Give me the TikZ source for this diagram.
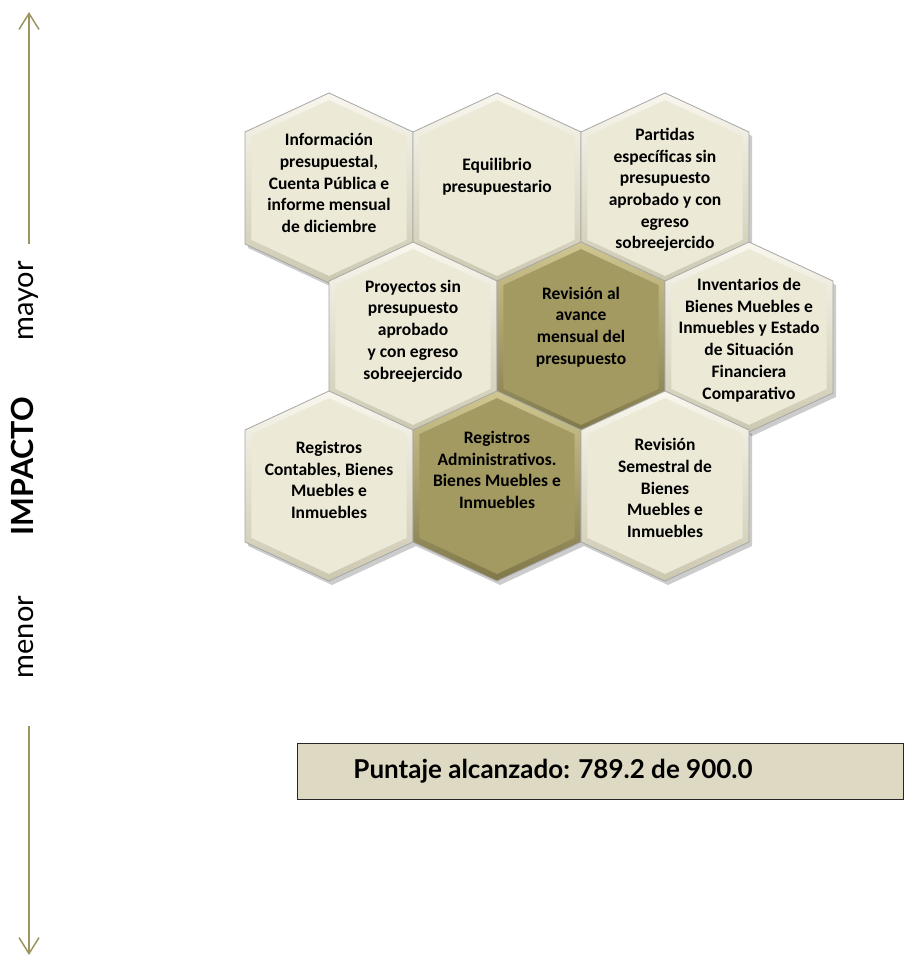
\documentclass[tikz,border=0pt]{standalone}
\usepackage{fontspec}
\setmainfont{Carlito}
\newfontfamily\latofont{Lato}
\usetikzlibrary{arrows.meta}
\definecolor{olive}{HTML}{9C9560}
\definecolor{faceL}{HTML}{ECE9D7}
\definecolor{hiL}{HTML}{F9F7EE}
\definecolor{loL}{HTML}{CCC8B0}
\definecolor{faceD}{HTML}{A39A62}
\definecolor{hiD}{HTML}{CFC690}
\definecolor{loD}{HTML}{80784A}
\definecolor{scorefill}{HTML}{DDD9C3}
% pointy-top cell: centre, scale
\newcommand{\hexpath}[3]{(#1,#2) ++(0,-95*#3) --++(84*#3,39*#3) --++(0,112*#3) --++(-84*#3,39*#3) --++(-84*#3,-39*#3) --++(0,-112*#3) --cycle}
\tikzset{
  impact/.style={-{Straight Barb[length=16pt,width=20pt]}, line width=1.5pt, color=olive},
  scale label/.style={rotate=90, anchor=base, font=\latofont\fontsize{29}{34}\selectfont},
  cell text/.style={align=center, font=\bfseries\fontsize{17.5}{21.7}\selectfont, text=black, inner sep=0pt},
  cell edge/.style={draw=gray!70, line width=0.8pt},
  shadow/.style={fill=black, opacity=0.2},
  scorebox/.style={draw=black!85, line width=1.3pt, fill=scorefill, anchor=north west,
    minimum width=606pt, minimum height=56pt},
}

\begin{document}
\begin{tikzpicture}[x=1pt, y=-1pt]
  \useasboundingbox (0,0) rectangle (904,956);

  % impact scale
  \coordinate (uptip) at (29,12);
  \coordinate (upfoot) at (29,244);
  \coordinate (downfoot) at (29,726);
  \coordinate (downtip) at (29,955);
  \draw[impact] (upfoot) -- (uptip);
  \draw[impact] (downfoot) -- (downtip);
  \node[scale label] (mayor) at (34,301) {mayor};
  \node[scale label, font=\latofont\bfseries\fontsize{30.5}{34}\selectfont] (impacto) at (34,466) {IMPACTO};
  \node[scale label] (menor) at (34,637) {menor};

  % honeycomb
  \foreach \cname/\cx/\cy/\tone/\ty/\ctext in {
    info/329/188/L/183/{Información\\presupuestal,\\Cuenta Pública e\\informe mensual\\de diciembre},
    equil/497/188/L/177/{Equilibrio\\presupuestario},
    partidas/665/188/L/190/{Partidas\\específicas sin\\presupuesto\\aprobado y con\\egreso\\sobreejercido},
    proyectos/413/337/L/331/{Proyectos sin\\presupuesto\\aprobado\\y con egreso\\sobreejercido},
    avance/581/337/D/327/{Revisión al\\avance\\mensual del\\presupuesto},
    inventarios/749/337/L/340/{Inventarios de\\Bienes Muebles e\\Inmuebles y Estado\\de Situación\\Financiera\\Comparativo},
    contables/329/486/L/480/{Registros\\Contables, Bienes\\Muebles e\\Inmuebles},
    admin/497/486/D/470/{Registros\\Administrativos.\\Bienes Muebles e\\Inmuebles},
    semestral/665/486/L/488/{Revisión\\Semestral de\\Bienes\\Muebles e\\Inmuebles}%
  }{
    \fill[shadow] \hexpath{\cx+3}{\cy+4}{1};
    \path[cell edge, top color=hi\tone, bottom color=lo\tone] \hexpath{\cx}{\cy}{1};
    \fill[face\tone] \hexpath{\cx}{\cy}{0.925};
    \node[cell text] (\cname) at (\cx,\ty) {\ctext};
  }

  % score
  \node[scorebox] (box) at (297,743) {};
  \node[font=\latofont\bfseries\fontsize{26}{32}\selectfont] (score) at (553,771) {Puntaje alcanzado: 789.2 de 900.0};

\end{tikzpicture}
\end{document}
